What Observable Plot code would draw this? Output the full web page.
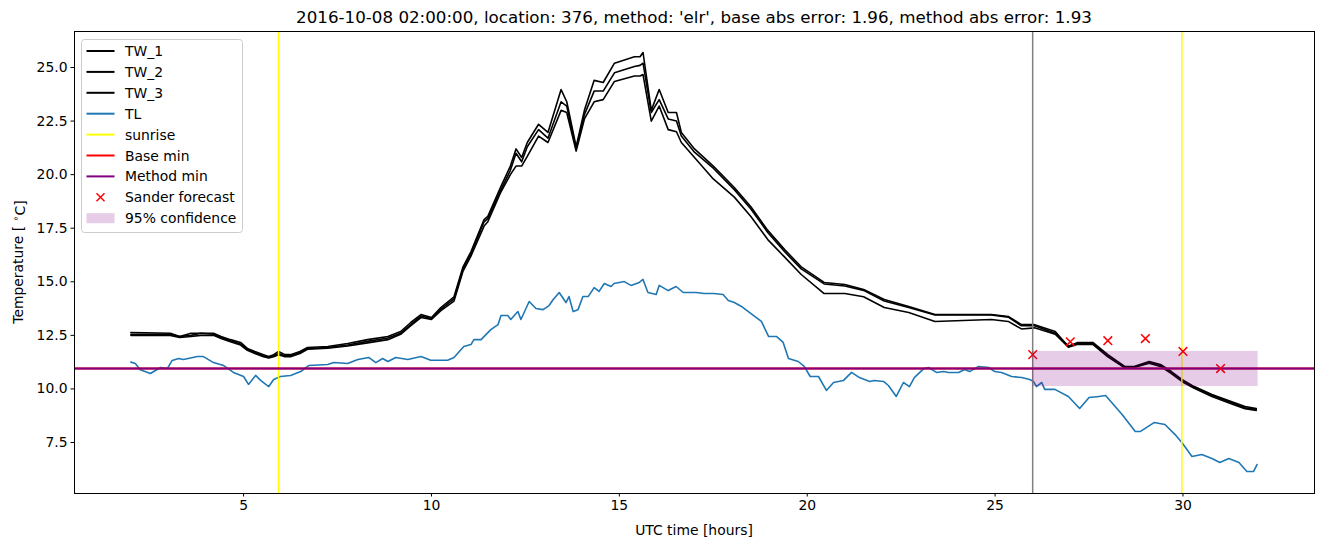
<!DOCTYPE html>
<html>
<head>
<meta charset="utf-8">
<script src="https://cdn.jsdelivr.net/npm/d3@7"></script>
<script src="https://cdn.jsdelivr.net/npm/@observablehq/plot@0.6"></script>
<style>
  html, body { margin: 0; padding: 0; background: white; }
  #chart { position: relative; width: 1324px; height: 547px; }
</style>
</head>
<body>
<div id="chart"></div>
<script>
// ---- data ----
const twHours = [2.0,3.05,3.3,3.6,3.86,4.2,4.4,4.65,4.92,5.1,5.3,5.53,5.67,5.8,5.93,6.1,6.25,6.5,6.7,7.24,7.77,8.3,8.84,9.18,9.45,9.72,10.0,10.25,10.6,10.84,11.05,11.4,11.5,11.85,12.1,12.25,12.4,12.55,12.85,13.1,13.45,13.6,13.85,14.07,14.33,14.57,14.87,15.4,15.55,15.63,15.85,16.06,16.3,16.52,16.65,17.0,17.5,18.06,18.5,18.95,19.4,19.84,20.45,21.0,21.5,22.05,22.7,23.4,24.9,25.35,25.7,26.05,26.6,26.95,27.2,27.6,28.0,28.45,28.7,29.1,29.4,29.7,29.97,30.3,30.77,31.3,31.65,31.95];
const tw1 = [12.63,12.6,12.45,12.6,12.6,12.6,12.45,12.3,12.17,11.89,11.75,11.6,11.51,11.6,11.75,11.6,11.6,11.75,11.93,11.98,12.12,12.3,12.45,12.68,13.1,13.47,13.33,13.8,14.3,15.7,16.4,17.9,18.05,19.45,20.4,21.2,20.8,21.5,22.35,21.97,23.97,23.4,21.3,23.0,24.4,24.3,25.2,25.5,25.5,25.7,23.0,23.97,22.9,22.9,21.97,21.2,20.4,19.4,18.5,17.4,16.5,15.7,14.97,14.87,14.64,14.17,13.85,13.47,13.47,13.38,13.0,13.0,12.68,11.98,12.17,12.17,11.6,11.05,11.05,11.28,11.14,10.8,10.44,10.11,9.74,9.4,9.18,9.09];
const tw2 = [12.55,12.55,12.45,12.5,12.6,12.55,12.4,12.25,12.1,11.85,11.7,11.55,11.47,11.55,11.65,11.55,11.55,11.7,11.88,11.93,12.05,12.22,12.38,12.6,13.0,13.4,13.28,13.72,14.2,15.6,16.3,17.8,17.95,19.3,20.2,21.0,20.6,21.3,22.1,21.7,23.4,23.2,21.2,22.8,23.9,23.9,24.75,25.05,25.1,25.2,22.9,23.5,22.6,22.5,21.8,21.05,20.3,19.3,18.4,17.3,16.4,15.6,14.9,14.8,14.6,14.1,13.8,13.45,13.45,13.35,12.95,12.95,12.6,12.0,12.12,12.12,11.55,11.0,11.02,11.25,11.1,10.75,10.4,10.08,9.7,9.35,9.12,9.05];
const tw3 = [12.5,12.5,12.4,12.45,12.5,12.5,12.35,12.2,12.05,11.8,11.65,11.5,11.45,11.5,11.6,11.5,11.5,11.65,11.85,11.9,12.0,12.15,12.3,12.55,12.95,13.33,13.24,13.65,14.1,15.5,16.2,17.6,17.8,19.2,20.0,20.4,20.4,20.85,21.8,21.5,23.0,22.9,21.1,22.6,23.4,23.5,24.35,24.6,24.6,24.67,22.5,23.2,22.1,22.0,21.5,20.8,19.8,18.95,18.05,16.97,16.15,15.34,14.45,14.45,14.3,13.8,13.57,13.15,13.24,13.15,12.8,12.85,12.55,11.95,12.08,12.08,11.5,10.98,11.0,11.2,11.05,10.7,10.35,10.03,9.65,9.3,9.08,9.0];

const tlHours = [2.0,2.12,2.25,2.52,2.79,2.97,3.1,3.27,3.4,3.77,3.93,4.2,4.47,4.73,5.0,5.13,5.32,5.46,5.67,5.8,5.98,6.25,6.52,6.73,7.24,7.4,7.77,8.04,8.33,8.52,8.7,8.84,9.05,9.37,9.72,9.98,10.43,10.6,10.86,11.05,11.13,11.32,11.58,11.77,11.85,12.03,12.11,12.3,12.38,12.6,12.78,12.97,13.13,13.24,13.4,13.58,13.66,13.77,13.9,14.03,14.17,14.33,14.46,14.6,14.78,14.86,15.0,15.13,15.31,15.53,15.63,15.76,15.98,16.06,16.3,16.51,16.7,17.04,17.26,17.52,17.76,17.9,18.06,18.25,18.46,18.78,18.97,19.18,19.36,19.5,19.76,19.92,20.08,20.3,20.51,20.7,20.96,21.18,21.39,21.66,21.79,22.03,22.16,22.37,22.56,22.72,22.85,23.1,23.23,23.44,23.63,23.76,24.03,24.19,24.32,24.56,24.83,24.99,25.17,25.44,25.71,25.92,26.02,26.1,26.24,26.32,26.59,26.95,27.25,27.5,27.76,27.94,28.38,28.73,28.86,29.23,29.52,29.79,29.97,30.24,30.5,30.77,30.98,31.22,31.49,31.7,31.88,31.97];
const tl = [11.25,11.19,10.9,10.72,11.0,10.95,11.33,11.42,11.37,11.51,11.51,11.23,11.09,10.77,10.58,10.21,10.63,10.39,10.11,10.44,10.58,10.63,10.81,11.09,11.14,11.23,11.19,11.37,11.47,11.23,11.42,11.28,11.47,11.37,11.51,11.34,11.34,11.47,11.98,12.07,12.3,12.3,12.77,13.0,13.43,13.43,13.24,13.61,13.24,14.08,13.75,13.7,13.89,14.17,14.5,14.03,14.31,13.61,13.7,14.31,14.31,14.73,14.55,14.92,14.78,14.92,14.97,15.01,14.83,14.97,15.11,14.5,14.41,14.83,14.59,14.78,14.5,14.5,14.45,14.45,14.41,14.13,14.03,13.85,13.57,13.15,12.45,12.45,12.17,11.42,11.28,11.05,10.58,10.58,9.93,10.3,10.39,10.77,10.53,10.35,10.39,10.35,10.16,9.65,10.3,10.11,10.53,10.95,11.0,10.77,10.81,10.77,10.77,10.91,10.81,11.05,11.0,10.81,10.77,10.58,10.53,10.44,10.35,10.11,10.3,9.98,9.98,9.65,9.09,9.6,9.65,9.69,8.81,8.01,8.01,8.43,8.34,7.87,7.5,6.85,6.94,6.75,6.57,6.75,6.57,6.15,6.15,6.47];

const sunriseHours = [5.93, 29.97];
const forecastStart = [26.0];
const baseMin = [10.95];
const methodMin = [10.95];
const forecastHours = [26, 27, 28, 29, 30, 31];
const forecastTemps = [11.6, 12.2, 12.25, 12.35, 11.75, 10.95];
const bandHours = [26, 32];
const bandLow = 10.11;
const bandHigh = 11.75;
const xTicks = [5, 10, 15, 20, 25, 30];
const yTicks = [7.5, 10.0, 12.5, 15.0, 17.5, 20.0, 22.5, 25.0];

const titleText = "2016-10-08 02:00:00, location: 376, method: 'elr', base abs error: 1.96, method abs error: 1.93";

// ---- tables ----
const twData = (vals) => twHours.map((h, i) => ({h, t: vals[i]}));
const tlData = tlHours.map((h, i) => ({h, t: tl[i]}));
const forecast = forecastHours.map((h, i) => ({h, t: forecastTemps[i]}));
const band = [{x1: bandHours[0], x2: bandHours[1], y1: bandLow, y2: bandHigh}];

const W = 1324, H = 547, ML = 74, MR = 10, MT = 31, MB = 54;

const chart = Plot.plot({
  width: W, height: H,
  marginLeft: ML, marginRight: MR, marginTop: MT, marginBottom: MB,
  style: {fontFamily: "DejaVu Sans", fontSize: "13.9px", color: "black", background: "white", overflow: "visible"},
  x: {domain: [0.5, 33.5], ticks: xTicks, tickFormat: d => String(d), label: null, tickSize: 3.5, tickPadding: 3.5},
  y: {domain: [5.12, 26.68], ticks: yTicks, tickFormat: d => d.toFixed(1), label: null, tickSize: 3.5, tickPadding: 3.5},
  marks: [
    Plot.line(twData(tw1), {x: "h", y: "t", stroke: "black", strokeWidth: 1.6}),
    Plot.line(twData(tw2), {x: "h", y: "t", stroke: "black", strokeWidth: 1.6}),
    Plot.line(twData(tw3), {x: "h", y: "t", stroke: "black", strokeWidth: 1.6}),
    Plot.line(tlData, {x: "h", y: "t", stroke: "#1f77b4", strokeWidth: 1.6}),
    Plot.ruleX(sunriseHours, {stroke: "yellow", strokeWidth: 1.5}),
    Plot.ruleX(forecastStart, {stroke: "gray", strokeWidth: 1.5}),
    Plot.ruleY(baseMin, {stroke: "red", strokeWidth: 2}),
    Plot.ruleY(methodMin, {stroke: "purple", strokeWidth: 2}),
    Plot.dot(forecast, {x: "h", y: "t", symbol: "times", stroke: "red", strokeWidth: 1.5, r: 4}),
    Plot.rect(band, {x1: "x1", x2: "x2", y1: "y1", y2: "y2", fill: "purple", fillOpacity: 0.2}),
    Plot.frame({stroke: "black", strokeWidth: 1})
  ]
});
document.getElementById("chart").appendChild(chart);

// ---- title, axis labels, legend ----
const svg = d3.select(chart);
svg.append("text").attr("x", (ML + W - MR) / 2).attr("y", 23).attr("text-anchor", "middle")
  .style("font-size", "16.7px").attr("fill", "black").text(titleText);
svg.append("text").attr("x", (ML + W - MR) / 2).attr("y", 535).attr("text-anchor", "middle")
  .style("font-size", "13.9px").attr("fill", "black").text("UTC time [hours]");
const yl = svg.append("text").attr("transform", `translate(23,${(MT + H - MB) / 2}) rotate(-90)`)
  .attr("text-anchor", "middle").style("font-size", "13.9px").attr("fill", "black");
yl.append("tspan").text("Temperature [ ");
yl.append("tspan").attr("dy", "-0.45em").style("font-size", "9.7px").text("∘");
yl.append("tspan").attr("dy", "0.45em").text("C]");

const legendItems = [
  {label: "TW_1", type: "line", color: "black"},
  {label: "TW_2", type: "line", color: "black"},
  {label: "TW_3", type: "line", color: "black"},
  {label: "TL", type: "line", color: "#1f77b4"},
  {label: "sunrise", type: "line", color: "yellow"},
  {label: "Base min", type: "line", color: "red"},
  {label: "Method min", type: "line", color: "purple"},
  {label: "Sander forecast", type: "x", color: "red"},
  {label: "95% confidence", type: "patch", color: "purple"}
];
const lg = svg.append("g");
lg.append("rect").attr("x", 81.5).attr("y", 39.5).attr("width", 161).attr("height", 193).attr("rx", 3)
  .attr("fill", "white").attr("fill-opacity", 0.8).attr("stroke", "#cccccc");
legendItems.forEach((it, i) => {
  const cy = 51 + i * 20.9;
  if (it.type === "line") {
    lg.append("line").attr("x1", 86.5).attr("x2", 114.5).attr("y1", cy).attr("y2", cy)
      .attr("stroke", it.color).attr("stroke-width", 2);
  } else if (it.type === "x") {
    const cx = 100.5, s = 4;
    lg.append("path").attr("d", `M${cx - s},${cy - s}L${cx + s},${cy + s}M${cx - s},${cy + s}L${cx + s},${cy - s}`)
      .attr("stroke", it.color).attr("stroke-width", 1.5).attr("fill", "none");
  } else {
    lg.append("rect").attr("x", 86.5).attr("y", cy - 5).attr("width", 28).attr("height", 10)
      .attr("fill", it.color).attr("fill-opacity", 0.2);
  }
  lg.append("text").attr("x", 125).attr("y", cy + 5).attr("text-anchor", "start")
    .style("font-size", "13.9px").attr("fill", "black").text(it.label);
});
</script>
</body>
</html>
